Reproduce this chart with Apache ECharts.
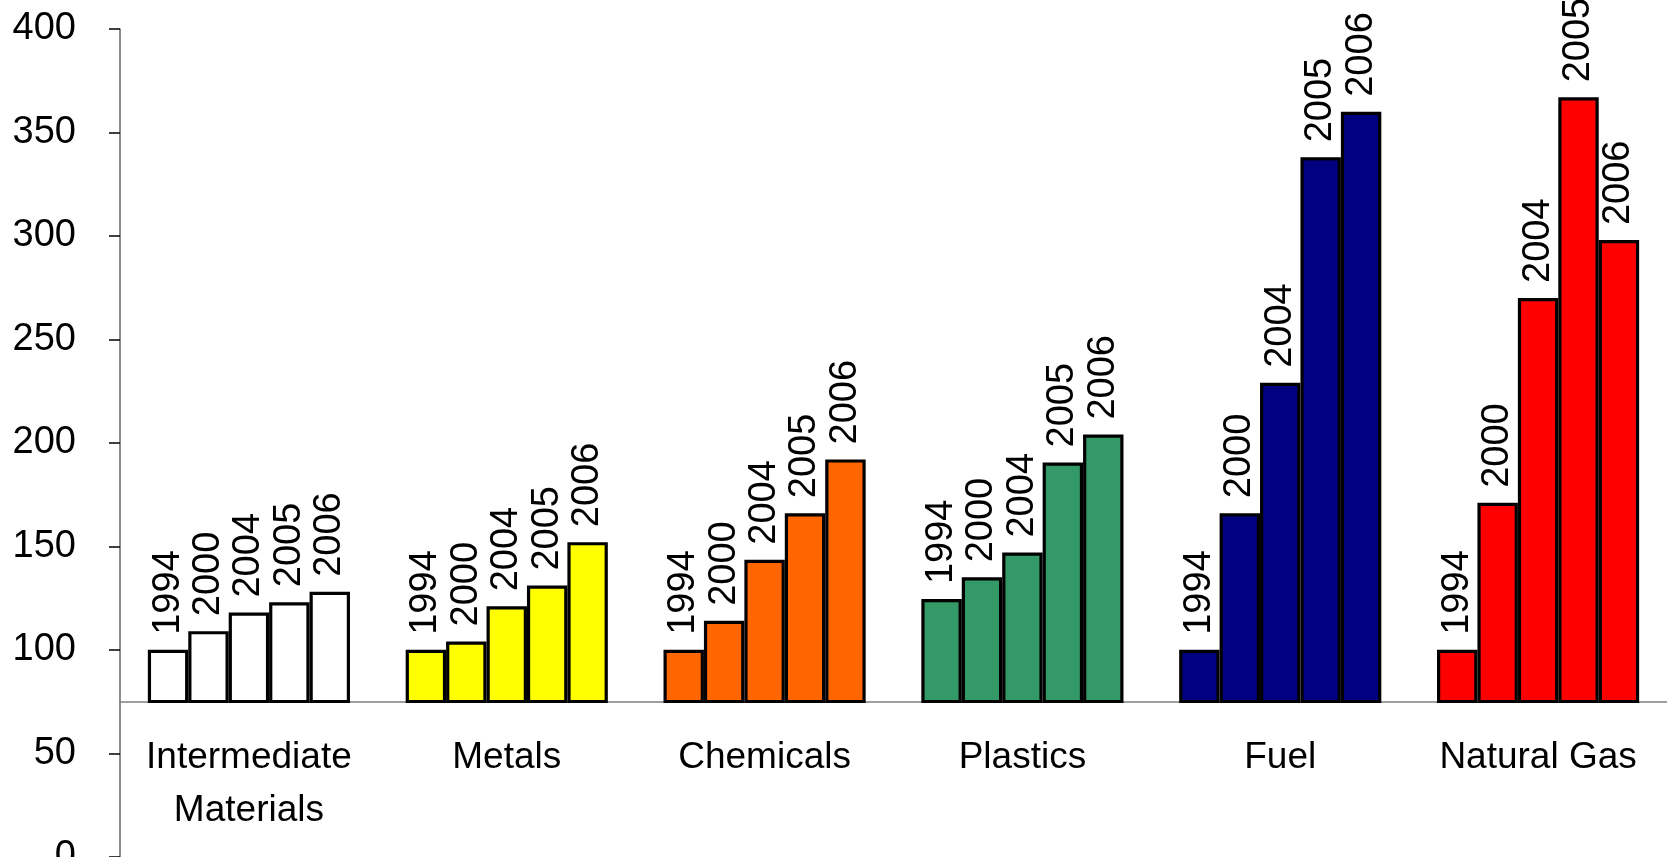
<!DOCTYPE html>
<html>
<head>
<meta charset="utf-8">
<title>Price indices by product group</title>
<script src="https://cdn.jsdelivr.net/npm/echarts@6/dist/echarts.min.js"></script>
<style>
  html, body { margin: 0; padding: 0; background: #fff; }
  #chart { width: 1667px; height: 857px; }
</style>
</head>
<body>
<div id="chart"></div>
<script>
// Product groups along the x axis
const categories = ['Intermediate\nMaterials', 'Metals', 'Chemicals', 'Plastics', 'Fuel', 'Natural Gas'];
// Years, one bar per year inside every group
const years = ['1994', '2000', '2004', '2005', '2006'];
// Index values (1994 = 100) for each group, in the order of `years`
const intermediate = [100, 109, 118, 123, 128];
const metals       = [100, 104, 121, 131, 152];
const chemicals    = [100, 114, 143.5, 166, 192];
const plastics     = [124.5, 135, 147, 190.5, 204];
const fuel         = [100, 166, 229, 338, 360];
const naturalGas   = [100, 171, 270, 367, 298];
// Value axis tick values
const yTicks = [0, 50, 100, 150, 200, 250, 300, 350, 400];
// Level where the category axis crosses the value axis
const axisCross = 75;

const groupValues = [intermediate, metals, chemicals, plastics, fuel, naturalGas];
const groupColors = ['#FFFFFF', '#FFFF00', '#FF6600', '#339966', '#000080', '#FF0000'];

const FONT = 'Liberation Sans, Arial, sans-serif';

const series = years.map((year, j) => ({
  name: year,
  type: 'bar',
  xAxisIndex: 0,
  yAxisIndex: 0,
  barGap: '0%',
  barCategoryGap: '21.6%',
  clip: true,
  data: groupValues.map((vals, i) => ({
    value: vals[j],
    itemStyle: { color: groupColors[i] }
  })),
  itemStyle: { borderColor: '#000', borderWidth: 3.2 },
  label: {
    show: true,
    position: 'top',
    rotate: 90,
    align: 'left',
    verticalAlign: 'middle',
    distance: 15,
    formatter: '{a}',
    color: '#000',
    fontSize: 38,
    fontFamily: FONT
  }
}));

const chart = echarts.init(document.getElementById('chart'), null, { renderer: 'canvas' });
chart.setOption({
  animation: false,
  backgroundColor: '#fff',
  grid: [
    // plotting area for the bars: from the crossing level up to the top
    { left: 120, right: 0, top: 29, bottom: 155.5, containLabel: false, outerBoundsMode: 'none' },
    // full-height area carrying the value axis
    { left: 120, right: 0, top: 29, bottom: 0, containLabel: false, outerBoundsMode: 'none' }
  ],
  xAxis: [
    {
      gridIndex: 0,
      type: 'category',
      data: categories,
      axisLine: { show: true, onZero: false, lineStyle: { color: '#808080', width: 1.5 } },
      axisTick: { show: false },
      axisLabel: {
        interval: 0,
        margin: 30,
        color: '#000',
        fontSize: 37,
        lineHeight: 53,
        fontFamily: FONT
      },
      splitLine: { show: false }
    },
    { gridIndex: 1, type: 'value', show: false, min: 0, max: 1 }
  ],
  yAxis: [
    { gridIndex: 0, type: 'value', min: axisCross, max: yTicks[yTicks.length - 1], show: false },
    {
      gridIndex: 1,
      type: 'value',
      min: yTicks[0],
      max: yTicks[yTicks.length - 1],
      interval: yTicks[1] - yTicks[0],
      axisLine: { show: true, onZero: false, lineStyle: { color: '#666666', width: 1.5 } },
      axisTick: { show: true, length: 11, lineStyle: { color: '#000', width: 1.5 } },
      splitLine: { show: false },
      axisLabel: {
        margin: 44,
        color: '#000',
        fontSize: 38,
        fontFamily: FONT,
        formatter: v => String(v)
      }
    }
  ],
  series: series
});
</script>
</body>
</html>
